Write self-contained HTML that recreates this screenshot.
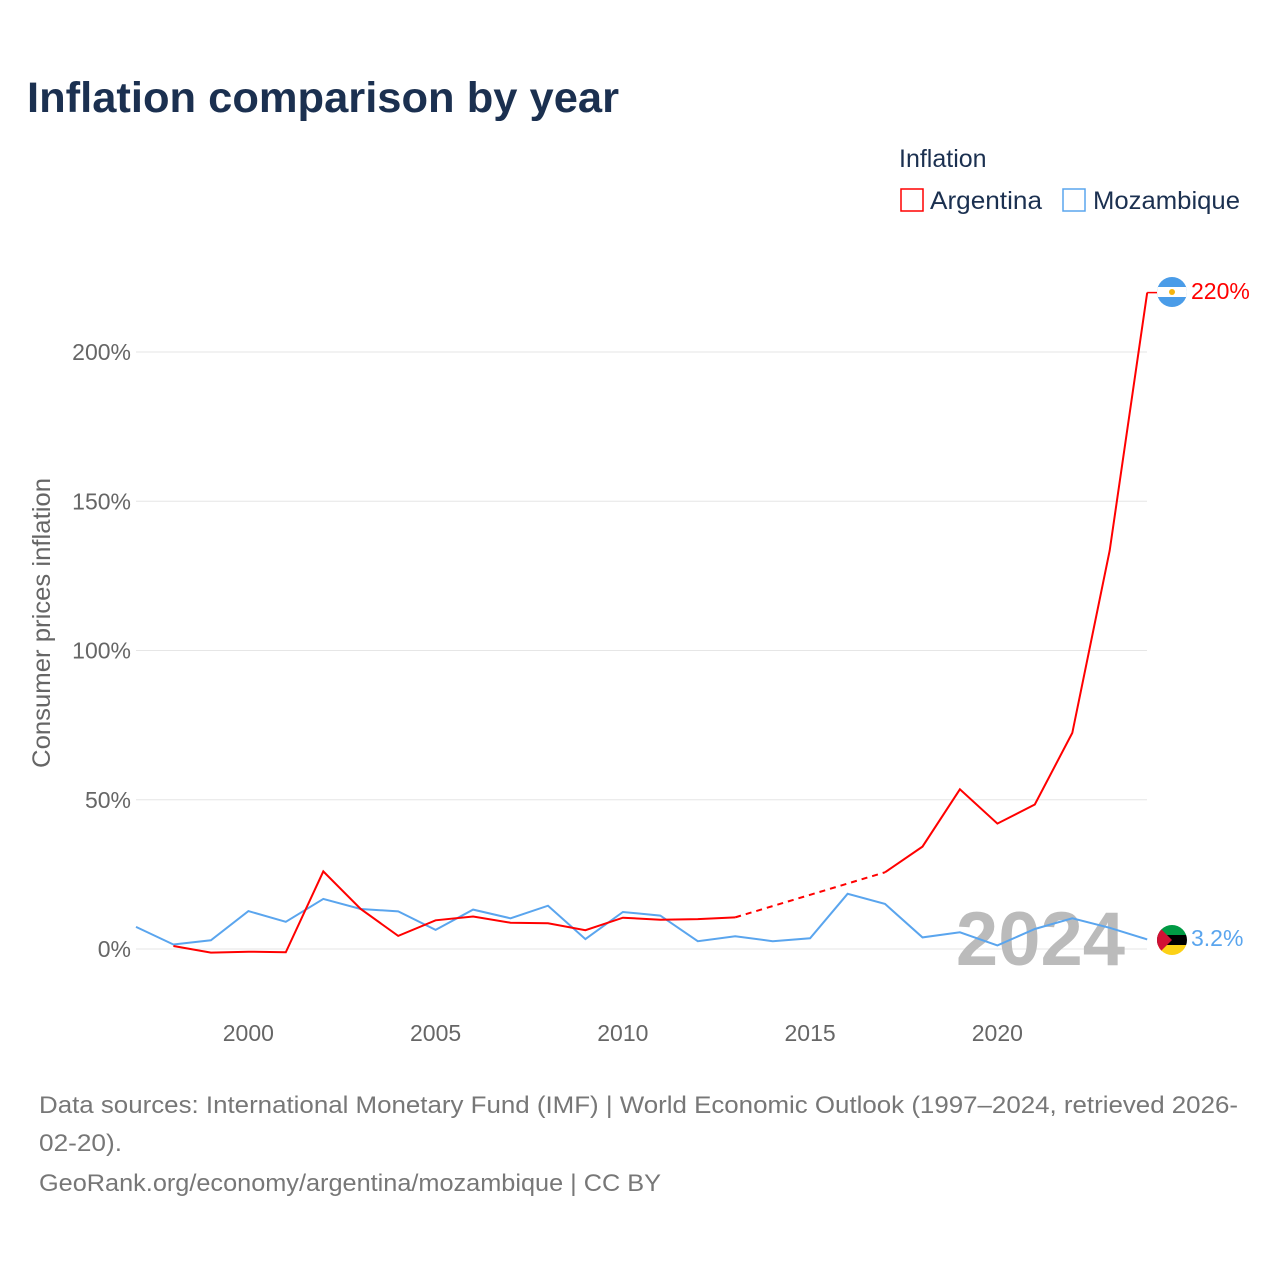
<!DOCTYPE html>
<html><head><meta charset="utf-8"><style>
body{margin:0;background:#fff;font-family:"Liberation Sans",sans-serif;}
</style></head><body>
<svg width="1280" height="1280" xmlns="http://www.w3.org/2000/svg">
<text x="27" y="112" font-size="43" font-weight="bold" fill="#1b3050" textLength="592" lengthAdjust="spacingAndGlyphs">Inflation comparison by year</text>
<text x="899" y="167" font-size="25" fill="#1b3050">Inflation</text>
<g><rect x="901" y="189" width="22" height="22" fill="none" stroke="#ff0000" stroke-width="1.5"/><text x="930" y="209" font-size="25" fill="#1b3050" textLength="112" lengthAdjust="spacingAndGlyphs">Argentina</text></g>
<g><rect x="1063" y="189" width="22" height="22" fill="none" stroke="#5aa5ee" stroke-width="1.5"/><text x="1093" y="209" font-size="25" fill="#1b3050" textLength="147" lengthAdjust="spacingAndGlyphs">Mozambique</text></g>
<text transform="translate(50,623) rotate(-90)" text-anchor="middle" font-size="25" fill="#666" textLength="290" lengthAdjust="spacingAndGlyphs">Consumer prices inflation</text>
<g id="grid"></g><g id="yt"></g><g id="xt"></g>
<text x="1125" y="965" text-anchor="end" font-size="76" font-weight="bold" fill="#bbb">2024</text>
<g id="series"></g>
<g><clipPath id="ca"><circle cx="1172" cy="292" r="15"/></clipPath><g clip-path="url(#ca)"><rect x="1157" y="277" width="30" height="30" fill="#4a9ce8"/><rect x="1157" y="287" width="30" height="10" fill="#fff"/><circle cx="1172" cy="292" r="3" fill="#f6b40e"/></g></g>
<text x="1191" y="299" font-size="23" fill="#ff0000">220%</text>
<g><clipPath id="cm"><circle cx="1172" cy="940" r="15"/></clipPath><g clip-path="url(#cm)"><rect x="1157" y="925" width="30" height="10" fill="#009a44"/><rect x="1157" y="935" width="30" height="10" fill="#000"/><rect x="1157" y="945" width="30" height="10" fill="#fcd116"/><polygon points="1157,925 1172,940 1157,955" fill="#d21034"/></g></g>
<text x="1191" y="946" font-size="23" fill="#5aa5ee">3.2%</text>
<text font-size="24" fill="#777"><tspan x="39" y="1113" textLength="1199" lengthAdjust="spacingAndGlyphs">Data sources: International Monetary Fund (IMF) | World Economic Outlook (1997–2024, retrieved 2026-</tspan><tspan x="39" y="1151" textLength="83" lengthAdjust="spacingAndGlyphs">02-20).</tspan><tspan x="39" y="1191" textLength="622" lengthAdjust="spacingAndGlyphs">GeoRank.org/economy/argentina/mozambique | CC BY</tspan></text>
</svg>
<script>
const yTicks=[0,50,100,150,200];
const xTicks=[2000,2005,2010,2015,2020];
const arYears=[1998,1999,2000,2001,2002,2003,2004,2005,2006,2007,2008,2009,2010,2011,2012,2013,2017,2018,2019,2020,2021,2022,2023,2024];
const arVals=[1.0,-1.2,-0.9,-1.1,26,13.4,4.4,9.6,10.9,8.8,8.6,6.3,10.5,9.8,10.0,10.6,25.7,34.3,53.5,42.0,48.4,72.4,133.5,219.9];
const mzYears=[1997,1998,1999,2000,2001,2002,2003,2004,2005,2006,2007,2008,2009,2010,2011,2012,2013,2014,2015,2016,2017,2018,2019,2020,2021,2022,2023,2024];
const mzVals=[7.4,1.5,2.9,12.7,9.1,16.8,13.4,12.6,6.4,13.2,10.3,14.5,3.3,12.4,11.2,2.6,4.3,2.6,3.6,18.5,15.1,3.9,5.6,1.2,6.7,10.3,7.1,3.2];
const NS="http://www.w3.org/2000/svg";
const X=y=>136+(y-1997)*37.45;
const Y=v=>949-v*2.985;
function mk(t,a,p){const e=document.createElementNS(NS,t);for(const k in a)e.setAttribute(k,a[k]);p.appendChild(e);return e;}
const grid=document.getElementById('grid'),yt=document.getElementById('yt'),xt=document.getElementById('xt'),ser=document.getElementById('series');
yTicks.forEach(v=>{
const l=mk('line',{x1:136,x2:1147,y1:Y(v),y2:Y(v),stroke:'#e6e6e6','stroke-width':1},grid);


const t=mk('text',{x:131,y:Y(v)+8,'text-anchor':'end','font-size':23,fill:'#666'},yt);t.textContent=v+'%';


});
xTicks.forEach(y=>{
const t=mk('text',{x:X(y),y:1041,'text-anchor':'middle','font-size':23,fill:'#666'},xt);t.textContent=y;


});
function pts(ys,vs){return ys.map((y,i)=>X(y).toFixed(1)+','+Y(vs[i]).toFixed(1)).join(' ');}
const mz=mk('polyline',{points:pts(mzYears,mzVals),fill:'none',stroke:'#5aa5ee','stroke-width':2},ser);


let seg=[[arYears[0]],[arVals[0]]];const segs=[];
for(let i=1;i<arYears.length;i++){
if(arYears[i]-arYears[i-1]>1){segs.push(seg);
const g=mk('line',{x1:X(arYears[i-1]),y1:Y(arVals[i-1]),x2:X(arYears[i]),y2:Y(arVals[i]),stroke:'#ff0000','stroke-width':2,'stroke-dasharray':'6,5'},ser);


seg=[[],[]];}
seg[0].push(arYears[i]);seg[1].push(arVals[i]);}
segs.push(seg);
segs.forEach(s=>{const p=mk('polyline',{points:pts(s[0],s[1]),fill:'none',stroke:'#ff0000','stroke-width':2},ser);

});
const last=arVals[arVals.length-1];
const c=mk('line',{x1:X(2024),y1:Y(last),x2:1157,y2:Y(last),stroke:'#ff0000','stroke-width':1.5},ser);


</script>
</body></html>
